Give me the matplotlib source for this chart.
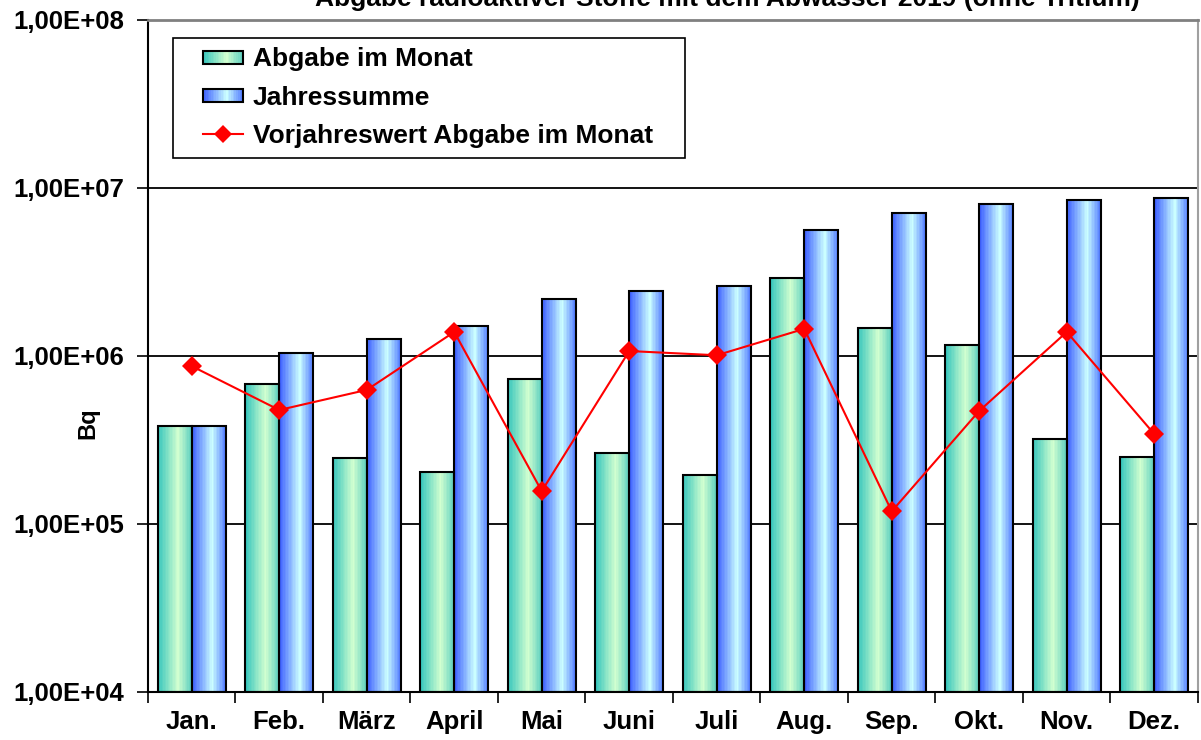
import numpy as np
import matplotlib
matplotlib.use("Agg")
import matplotlib.pyplot as plt
from matplotlib.colors import LinearSegmentedColormap
from matplotlib.legend_handler import HandlerBase
from matplotlib.patches import Rectangle
from matplotlib.lines import Line2D
from matplotlib.ticker import FixedLocator, FuncFormatter

plt.rcParams['font.family'] = ['Liberation Sans', 'DejaVu Sans']
plt.rcParams['font.weight'] = 'bold'

# Daten
monate = ["Jan.", "Feb.", "März", "April", "Mai", "Juni", "Juli", "Aug.", "Sep.", "Okt.", "Nov.", "Dez."]
abgabe_monat = [3.73e5, 6.7e5, 2.37e5, 1.93e5, 7.2e5, 2.54e5, 1.85e5, 2.91e6, 1.45e6, 1.15e6, 3.12e5, 2.4e5]
jahressumme = [3.73e5, 1.03e6, 1.26e6, 1.49e6, 2.18e6, 2.44e6, 2.61e6, 5.62e6, 7.1e6, 8.03e6, 8.48e6, 8.72e6]
vorjahr = [8.7e5, 4.77e5, 6.28e5, 1.39e6, 1.57e5, 1.07e6, 1.01e6, 1.45e6, 1.19e5, 4.71e5, 1.39e6, 3.43e5]

titel = "Abgabe radioaktiver Stoffe mit dem Abwasser 2019 (ohne Tritium)"

# Farbverläufe wie in Excel
cmap_gruen = LinearSegmentedColormap.from_list(
    "gruen", [(0, "#33c4bc"), (0.6, "#d2ffd0"), (1, "#5ccfc0")])
cmap_blau = LinearSegmentedColormap.from_list(
    "blau", [(0, "#3a5cff"), (0.6, "#ccffff"), (1, "#4f78ff")])

fig = plt.figure(figsize=(12.01, 7.40), dpi=100)
ax = fig.add_axes([0.1232, 0.0649, 0.8743, 0.9081])

x = np.arange(len(monate))
bw = 0.39
n_str = 24


def verlauf_balken(pos, werte, cmap):
    for k in range(n_str):
        ax.bar(pos + k * bw / n_str, werte, width=bw / n_str * 1.02, bottom=1e4,
               align='edge', color=cmap((k + 0.5) / n_str), linewidth=0, zorder=2)
    ax.bar(pos, werte, width=bw, bottom=1e4, align='edge', fill=False,
           edgecolor='black', linewidth=1.5, zorder=3)


verlauf_balken(x - bw, abgabe_monat, cmap_gruen)
verlauf_balken(x, jahressumme, cmap_blau)
ax.plot(x, vorjahr, color='red', lw=1.5, marker='D', markersize=10,
        markeredgewidth=0, zorder=4)

ax.set_yscale('log')
ax.set_ylim(1e4, 1e8)
ax.set_xlim(-0.5, len(monate) - 0.5)
ax.yaxis.set_major_locator(FixedLocator([1e4, 1e5, 1e6, 1e7, 1e8]))
ax.yaxis.set_minor_locator(FixedLocator([]))
ax.yaxis.set_major_formatter(FuncFormatter(
    lambda v, p: "1,00E+%02d" % int(round(np.log10(v)))))
ax.tick_params(axis='y', direction='out', length=8, width=1.2, labelsize=18.5, pad=9)
ax.set_xticks(x)
ax.set_xticklabels(monate)
ax.set_xticks(np.arange(len(monate) + 1) - 0.5, minor=True)
ax.tick_params(axis='x', which='major', length=0, labelsize=18.5, pad=13)
ax.tick_params(axis='x', which='minor', direction='out', length=8, width=1.2)
for t in ax.get_xticklabels() + ax.get_yticklabels():
    t.set_fontweight('bold')

for yv in [1e5, 1e6, 1e7]:
    ax.axhline(yv, color='black', lw=1.3, zorder=1)

ax.spines['left'].set_linewidth(1.5)
ax.spines['bottom'].set_linewidth(1.5)
ax.spines['top'].set_color('#808080')
ax.spines['top'].set_linewidth(2)
ax.spines['right'].set_color('#a0a0a0')
ax.spines['right'].set_linewidth(1.5)

ax.set_ylabel("Bq", fontsize=17, fontweight='bold')
ax.yaxis.set_label_coords(-0.046, 0.40)

fig.text(0.606, 0.992, titel, ha='center', va='baseline', fontsize=19,
         fontweight='bold')

SICHTBAR = 29  # sichtbare Breite der Legendensymbole (Punkte)


class VerlaufHandler(HandlerBase):
    def __init__(self, cmap):
        super().__init__()
        self.cmap = cmap

    def create_artists(self, legend, orig_handle, xdescent, ydescent,
                       width, height, fontsize, trans):
        arts = []
        w = SICHTBAR
        x0 = -xdescent + width - w
        h = height * 0.7
        y0 = -ydescent + (height - h) / 2
        for k in range(n_str):
            arts.append(Rectangle((x0 + k * w / n_str, y0), w / n_str * 1.05, h,
                                  facecolor=self.cmap((k + 0.5) / n_str),
                                  linewidth=0, transform=trans))
        arts.append(Rectangle((x0, y0), w, h, fill=False,
                              edgecolor='black', linewidth=1.5, transform=trans))
        return arts


class LinienHandler(HandlerBase):
    def create_artists(self, legend, orig_handle, xdescent, ydescent,
                       width, height, fontsize, trans):
        x0 = -xdescent + width - SICHTBAR
        ym = -ydescent + height / 2
        ln = Line2D([x0, x0 + SICHTBAR], [ym, ym], color='red', lw=1.5, transform=trans)
        mk = Line2D([x0 + SICHTBAR / 2], [ym], color='red', marker='D', markersize=9,
                    markeredgewidth=0, linestyle='none', transform=trans)
        return [ln, mk]


h1 = Rectangle((0, 0), 1, 1)
h2 = Rectangle((0, 0), 1, 1)
h3 = Line2D([], [])
leg = ax.legend([h1, h2, h3],
                ["Abgabe im Monat", "Jahressumme", "Vorjahreswert Abgabe im Monat"],
                handler_map={h1: VerlaufHandler(cmap_gruen), h2: VerlaufHandler(cmap_blau),
                             h3: LinienHandler()},
                loc='upper left', bbox_to_anchor=(0.0238, 0.6, 0.4876, 0.373),
                mode='expand', borderaxespad=0,
                prop={'size': 19, 'weight': 'bold'}, handlelength=2.3, handletextpad=0.37,
                labelspacing=0.55, borderpad=0.35, fancybox=False, framealpha=1,
                edgecolor='black')
leg.get_frame().set_linewidth(1.2)
leg.set_zorder(5)

fig.savefig("out.png", dpi=100)
